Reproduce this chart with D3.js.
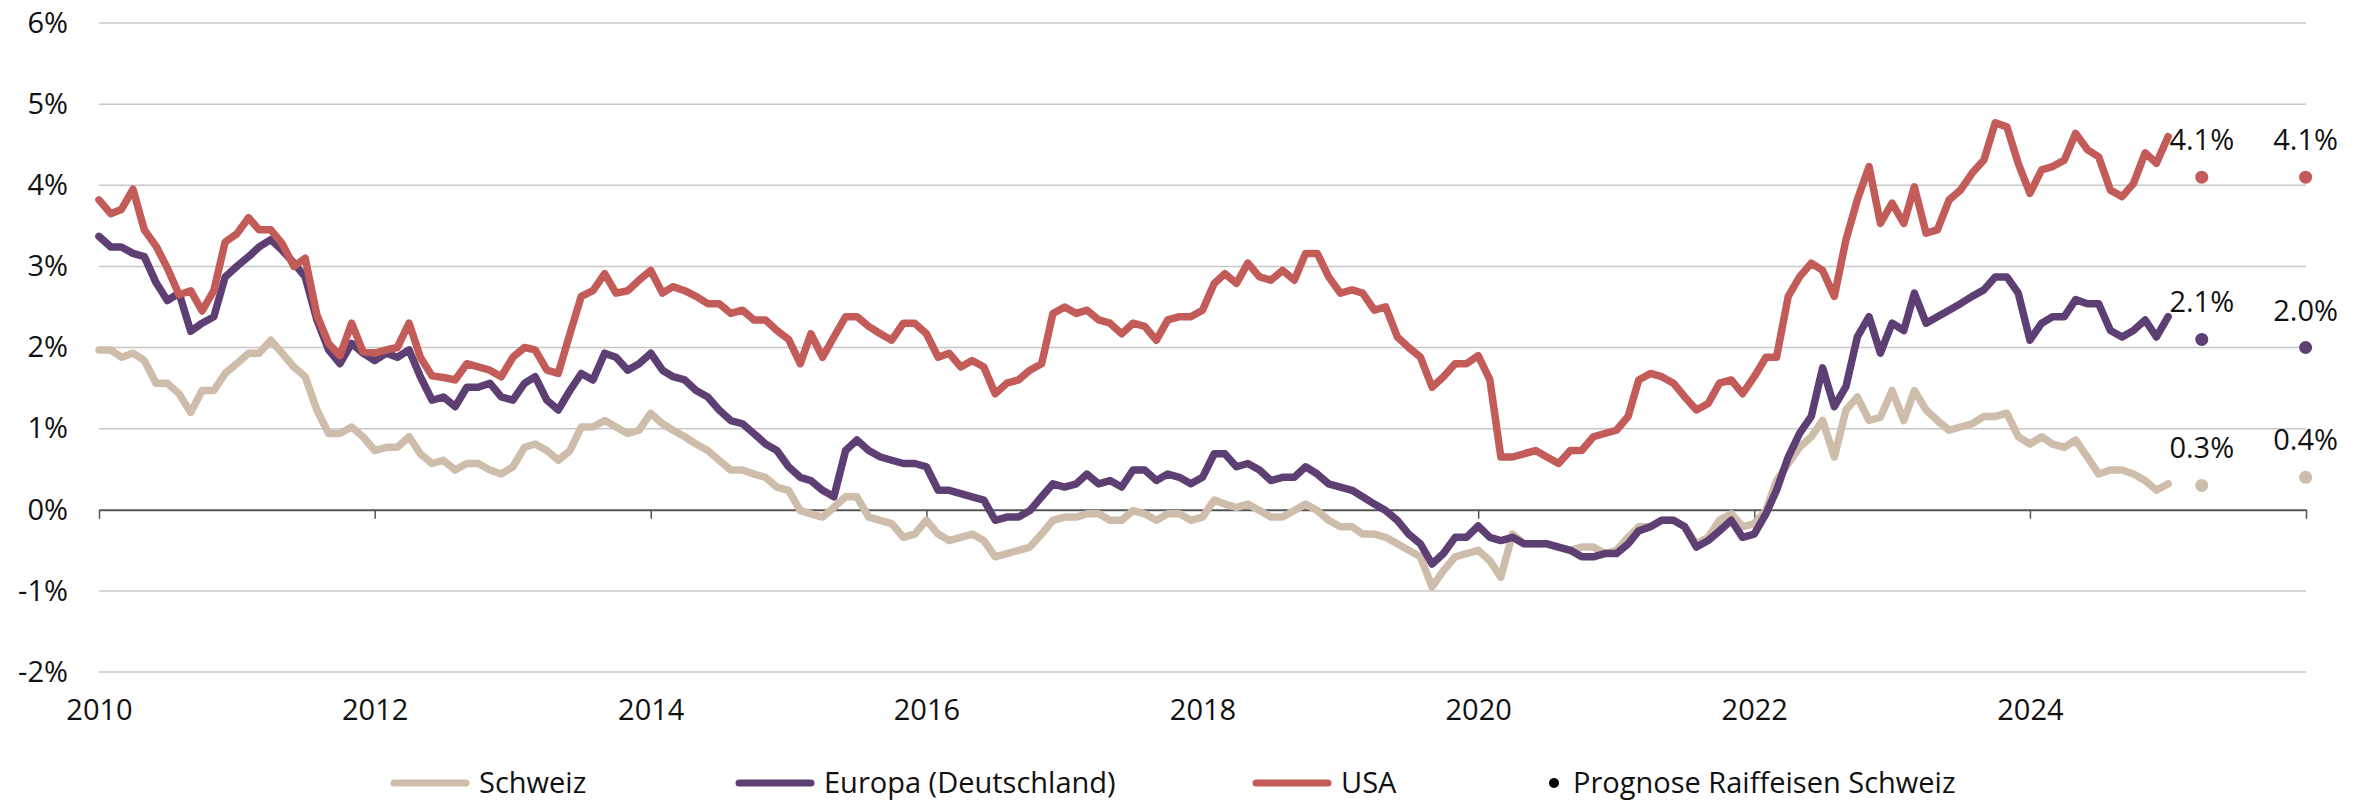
<!DOCTYPE html>
<html>
<head>
<meta charset="utf-8">
<script src="https://cdn.jsdelivr.net/npm/d3@7"></script>
<style>
body { margin: 0; background: #fff; }
text { font-family: "Open Sans", sans-serif; fill: #111; }
</style>
</head>
<body>
<div id="svg_element"></div>
<script>
// monthly values, Jan 2010 .. Jan 2025 (in %)
var schweiz = [
    1.97, 1.97, 1.88, 1.93, 1.84, 1.56, 1.56, 1.43, 1.2, 1.47, 1.47, 1.68, 1.8, 1.93, 1.93, 2.09, 1.93, 1.76, 1.64, 1.23, 0.94, 0.94, 1.02, 0.9, 0.73, 0.77, 0.77, 0.9, 0.69, 0.57, 0.61,
    0.49, 0.57, 0.57, 0.49, 0.44, 0.53, 0.77, 0.81, 0.73, 0.61, 0.73, 1.02, 1.02, 1.1, 1.02, 0.94, 0.98, 1.19, 1.06, 0.98, 0.9, 0.81, 0.73, 0.61, 0.49, 0.49, 0.44, 0.4, 0.28, 0.24,
    -0.01, -0.05, -0.09, 0.03, 0.16, 0.16, -0.09, -0.13, -0.17, -0.34, -0.3, -0.13, -0.3, -0.38, -0.34, -0.3, -0.38, -0.58, -0.54, -0.5, -0.46, -0.3, -0.13, -0.09, -0.09, -0.05, -0.05, -0.13, -0.13, -0.01,
    -0.05, -0.13, -0.05, -0.05, -0.13, -0.09, 0.12, 0.07, 0.03, 0.07, -0.01, -0.09, -0.09, -0.01, 0.07, -0.01, -0.13, -0.21, -0.21, -0.3, -0.3, -0.34, -0.42, -0.5, -0.58, -0.95, -0.75, -0.58, -0.54, -0.5,
    -0.63, -0.83, -0.3, -0.42, -0.42, -0.42, -0.46, -0.5, -0.46, -0.46, -0.54, -0.5, -0.34, -0.21, -0.21, -0.13, -0.13, -0.21, -0.42, -0.34, -0.13, -0.05, -0.21, -0.17, -0.01, 0.36, 0.57, 0.77, 0.9, 1.1,
    0.65, 1.23, 1.39, 1.1, 1.14, 1.47, 1.1, 1.47, 1.23, 1.1, 0.98, 1.02, 1.06, 1.15, 1.15, 1.19, 0.9, 0.81, 0.9, 0.81, 0.77, 0.86, 0.65, 0.44, 0.49, 0.49, 0.44, 0.36, 0.24, 0.32
];
var europa = [
    3.37, 3.24, 3.24, 3.16, 3.12, 2.8, 2.58, 2.67, 2.2, 2.3, 2.38, 2.87, 3.0, 3.12, 3.24, 3.33, 3.2, 3.04, 2.87, 2.34, 1.97, 1.8, 2.05, 1.93, 1.84, 1.93, 1.88, 1.97, 1.64, 1.35, 1.39,
    1.27, 1.51, 1.51, 1.56, 1.39, 1.35, 1.56, 1.64, 1.35, 1.23, 1.47, 1.68, 1.6, 1.93, 1.88, 1.72, 1.8, 1.93, 1.72, 1.64, 1.6, 1.47, 1.39, 1.23, 1.1, 1.06, 0.94, 0.81, 0.73, 0.53,
    0.4, 0.36, 0.24, 0.16, 0.73, 0.86, 0.73, 0.65, 0.61, 0.57, 0.57, 0.53, 0.24, 0.24, 0.2, 0.16, 0.12, -0.13, -0.09, -0.09, -0.01, 0.16, 0.32, 0.28, 0.32, 0.44, 0.32, 0.36, 0.28, 0.49,
    0.49, 0.36, 0.44, 0.4, 0.32, 0.4, 0.69, 0.69, 0.53, 0.57, 0.49, 0.36, 0.4, 0.4, 0.53, 0.44, 0.32, 0.28, 0.24, 0.16, 0.07, -0.01, -0.13, -0.3, -0.42, -0.67, -0.54, -0.34, -0.34, -0.2,
    -0.34, -0.38, -0.34, -0.42, -0.42, -0.42, -0.46, -0.5, -0.58, -0.58, -0.54, -0.54, -0.42, -0.26, -0.21, -0.13, -0.13, -0.21, -0.46, -0.38, -0.26, -0.13, -0.34, -0.3, -0.05, 0.24, 0.65, 0.94, 1.15, 1.75,
    1.27, 1.52, 2.13, 2.38, 1.93, 2.3, 2.21, 2.67, 2.3, 2.38, 2.46, 2.54, 2.63, 2.71, 2.87, 2.87, 2.67, 2.09, 2.3, 2.38, 2.38, 2.59, 2.54, 2.54, 2.21, 2.13, 2.21, 2.34, 2.13, 2.38
];
var usa = [
    3.82, 3.65, 3.7, 3.95, 3.45, 3.25, 2.98, 2.65, 2.7, 2.45, 2.7, 3.3, 3.4, 3.6, 3.45, 3.45, 3.28, 3.0, 3.1, 2.4, 2.05, 1.9, 2.3, 1.95, 1.93, 1.97, 2.0, 2.3, 1.88, 1.65, 1.63,
    1.6, 1.8, 1.76, 1.72, 1.64, 1.88, 2.0, 1.97, 1.72, 1.68, 2.17, 2.63, 2.7, 2.91, 2.67, 2.7, 2.83, 2.95, 2.67, 2.75, 2.7, 2.63, 2.54, 2.54, 2.42, 2.46, 2.34, 2.34, 2.21, 2.1,
    1.8, 2.17, 1.88, 2.13, 2.38, 2.38, 2.26, 2.17, 2.09, 2.3, 2.3, 2.17, 1.88, 1.93, 1.76, 1.84, 1.76, 1.43, 1.56, 1.6, 1.72, 1.8, 2.42, 2.5, 2.42, 2.46, 2.34, 2.3, 2.17, 2.3,
    2.26, 2.09, 2.34, 2.38, 2.38, 2.46, 2.79, 2.91, 2.79, 3.04, 2.87, 2.83, 2.95, 2.83, 3.16, 3.16, 2.87, 2.67, 2.71, 2.67, 2.46, 2.5, 2.13, 2.0, 1.88, 1.51, 1.64, 1.8, 1.8, 1.9,
    1.6, 0.65, 0.65, 0.69, 0.73, 0.65, 0.57, 0.73, 0.73, 0.9, 0.94, 0.98, 1.15, 1.6, 1.68, 1.64, 1.56, 1.39, 1.23, 1.31, 1.56, 1.6, 1.43, 1.64, 1.88, 1.88, 2.63, 2.87, 3.04, 2.95,
    2.63, 3.33, 3.82, 4.23, 3.53, 3.78, 3.53, 3.98, 3.41, 3.45, 3.82, 3.94, 4.15, 4.31, 4.77, 4.72, 4.27, 3.9, 4.19, 4.23, 4.31, 4.64, 4.44, 4.35, 3.94, 3.86, 4.02, 4.4, 4.27, 4.6
];

// forecasts (Raiffeisen Schweiz)
var prognoseDates = ["2025-03-31", "2025-12-31"];
var prognoseSchweiz = [0.3, 0.4];
var prognoseEuropa = [2.1, 2.0];
var prognoseUSA = [4.1, 4.1];

var yTicks = [-2, -1, 0, 1, 2, 3, 4, 5, 6];
var xTickYears = [2010, 2012, 2014, 2016, 2018, 2020, 2022, 2024, 2026];
var legendLabels = ["Schweiz", "Europa (Deutschland)", "USA", "Prognose Raiffeisen Schweiz"];

var colors = {
    schweiz: "#cfbdab",
    europa: "#5e3f73",
    usa: "#c35c59"
};

var fontSize = "29px";

var margin = { top: 23, right: 65, bottom: 130, left: 99 },
    width = 2371 - margin.left - margin.right,
    height = 802 - margin.top - margin.bottom;

var root = d3.select("#svg_element")
    .append("svg")
    .attr("width", 2371)
    .attr("height", 802);

var svg = root.append("g")
    .attr("transform", "translate(" + margin.left + "," + margin.top + ")");

var months = d3.timeMonth.range(new Date(2010, 0, 1), new Date(2025, 1, 1));
var parseDate = d3.timeParse("%Y-%m-%d");

var x = d3.scaleTime()
    .domain([new Date(2010, 0, 1), new Date(2026, 0, 1)])
    .range([0, width]);

var y = d3.scaleLinear()
    .domain([-2, 6])
    .range([height, 0]);

// horizontal grid lines (not at 0, that one is the axis)
svg.append("g")
    .selectAll("line")
    .data(yTicks.filter(d => d !== 0))
    .join("line")
    .attr("x1", 0)
    .attr("x2", width)
    .attr("y1", d => y(d))
    .attr("y2", d => y(d))
    .attr("stroke", "#c8c8c8")
    .attr("stroke-width", 1.5);

// y axis labels
var yAxis = svg.append("g")
    .call(d3.axisLeft(y).tickValues(yTicks).tickSize(0).tickPadding(31).tickFormat(d => d + "%"));
yAxis.select(".domain").remove();
yAxis.selectAll("text")
    .style("font-size", fontSize)
    .style("font-family", "'Open Sans', sans-serif")
    .attr("fill", "#111");

// zero line with year ticks
var zeroAxis = svg.append("g")
    .attr("transform", "translate(0," + y(0) + ")")
    .call(d3.axisBottom(x)
        .tickValues(xTickYears.map(d => new Date(d, 0, 1)))
        .tickSize(9)
        .tickSizeOuter(0)
        .tickFormat(""));
zeroAxis.select(".domain").attr("stroke", "#555").attr("stroke-width", 2);
zeroAxis.selectAll(".tick line").attr("stroke", "#555").attr("stroke-width", 1.5);

// year labels below the plot
var xAxis = svg.append("g")
    .attr("transform", "translate(0," + height + ")")
    .call(d3.axisBottom(x)
        .tickValues(xTickYears.map(d => new Date(d, 0, 1)))
        .tickSize(0)
        .tickPadding(27)
        .tickFormat(d => d.getFullYear() === 2026 ? "" : d.getFullYear()));
xAxis.select(".domain").remove();
xAxis.selectAll("text")
    .style("font-size", fontSize)
    .style("font-family", "'Open Sans', sans-serif")
    .attr("fill", "#111");

var line = d3.line()
    .x((d, i) => x(months[i]))
    .y(d => y(d))
    .curve(d3.curveLinear);

var series = [
    { key: "schweiz", values: schweiz, prognose: prognoseSchweiz },
    { key: "europa", values: europa, prognose: prognoseEuropa },
    { key: "usa", values: usa, prognose: prognoseUSA }
];

svg.selectAll(".serie")
    .data(series)
    .join("path")
    .attr("class", "serie")
    .attr("d", d => line(d.values))
    .attr("fill", "none")
    .attr("stroke", d => colors[d.key])
    .attr("stroke-width", 7.5)
    .attr("stroke-linejoin", "round")
    .attr("stroke-linecap", "round");

// forecast dots + labels
var fmt = d3.format(".1f");
series.forEach(function (s) {
    var pts = s.prognose.map((v, i) => ({ date: parseDate(prognoseDates[i]), value: v }));
    svg.append("g")
        .selectAll("circle")
        .data(pts)
        .join("circle")
        .attr("cx", d => x(d.date))
        .attr("cy", d => y(d.value))
        .attr("r", 6.5)
        .attr("fill", colors[s.key]);
    svg.append("g")
        .selectAll("text")
        .data(pts)
        .join("text")
        .attr("x", d => x(d.date))
        .attr("y", d => y(d.value) - 27)
        .attr("text-anchor", "middle")
        .style("font-size", fontSize)
        .text(d => fmt(d.value) + "%");
});

// legend
var legendY = 783;
var legendItems = [
    { label: legendLabels[0], color: colors.schweiz, x: 394, type: "line" },
    { label: legendLabels[1], color: colors.europa, x: 739, type: "line" },
    { label: legendLabels[2], color: colors.usa, x: 1256, type: "line" },
    { label: legendLabels[3], color: "#000", x: 1549, type: "dot" }
];
var legend = root.append("g");
legendItems.forEach(function (d) {
    if (d.type === "line") {
        legend.append("line")
            .attr("x1", d.x)
            .attr("x2", d.x + 72)
            .attr("y1", legendY)
            .attr("y2", legendY)
            .attr("stroke", d.color)
            .attr("stroke-width", 7)
            .attr("stroke-linecap", "round");
        legend.append("text")
            .attr("x", d.x + 85)
            .attr("y", legendY)
            .attr("dy", "0.35em")
            .style("font-size", fontSize)
            .text(d.label);
    } else {
        legend.append("circle")
            .attr("cx", d.x + 5)
            .attr("cy", legendY)
            .attr("r", 5)
            .attr("fill", d.color);
        legend.append("text")
            .attr("x", d.x + 24)
            .attr("y", legendY)
            .attr("dy", "0.35em")
            .style("font-size", fontSize)
            .text(d.label);
    }
});
</script>
</body>
</html>
